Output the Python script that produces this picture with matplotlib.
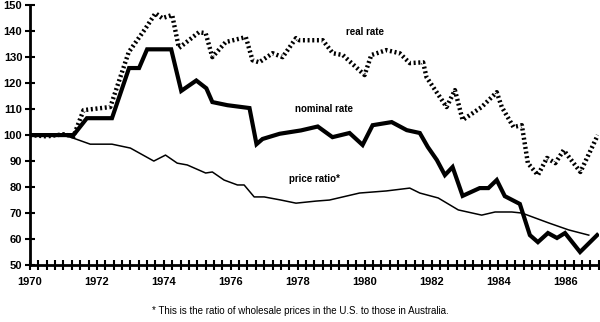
#!/usr/bin/env python3
import numpy as np
import matplotlib

# Backend non interattivo
matplotlib.use("Agg")
import matplotlib.pyplot as plt
from matplotlib.ticker import MultipleLocator

# Dati (anno, indice)
nominal_year = [1970.0, 1971.3, 1971.7, 1972.45, 1972.96, 1973.26, 1973.5, 1974.22,
                1974.52, 1974.97, 1975.27, 1975.45, 1975.9, 1976.56, 1976.77, 1976.95,
                1977.46, 1978.1, 1978.6, 1979.04, 1979.55, 1979.94, 1980.24, 1980.81,
                1981.26, 1981.65, 1981.89, 1982.16, 1982.4, 1982.63, 1982.93, 1983.44,
                1983.7, 1983.95, 1984.19, 1984.64, 1984.94, 1985.18, 1985.48, 1985.75,
                1985.99, 1986.44, 1986.95]
nominal_rate = [100, 100, 106.5, 106.5, 125.8, 125.8, 133, 133,
                117, 121, 118, 112.7, 111.5, 110.4, 96.5, 98.5,
                100.5, 101.8, 103.3, 99.2, 100.8, 96.2, 103.8, 105,
                101.9, 100.8, 95.4, 90.4, 84.6, 87.7, 76.6, 79.6,
                79.6, 82.7, 76.5, 73.5, 61.5, 58.8, 62.3, 60.4,
                62.3, 55, 61.5]

real_year = [1970.0, 1970.5, 1971.0, 1971.3, 1971.6, 1972.4, 1972.95, 1973.45,
             1973.75, 1973.95, 1974.25, 1974.45, 1974.75, 1975.05, 1975.25, 1975.45,
             1975.85, 1976.45, 1976.65, 1976.85, 1977.25, 1977.55, 1977.95, 1978.05,
             1978.75, 1979.05, 1979.35, 1980.0, 1980.2, 1980.65, 1981.05, 1981.35,
             1981.75, 1981.85, 1982.45, 1982.7, 1982.93, 1983.5, 1983.95, 1984.1,
             1984.45, 1984.7, 1984.88, 1985.18, 1985.45, 1985.7, 1985.95, 1986.45,
             1986.97]
real_rate = [100, 99.5, 100.3, 99.5, 109.6, 110.8, 131.9, 141,
             146.9, 145, 146.2, 133.5, 136.5, 139.6, 139.2, 130,
             135.8, 137.7, 128.8, 128, 131.5, 130, 137.3, 136.5,
             136.5, 131.5, 130.8, 123.1, 130.8, 132.7, 131.5, 127.7,
             128, 122.3, 110.8, 117.3, 105.8, 110.8, 116.5, 110.8,
             103.1, 103.8, 89.2, 84.6, 91.2, 89.2, 94.2, 85.8,
             100]

price_year = [1970.0, 1971.0, 1971.3, 1971.8, 1972.45, 1973.0, 1973.7, 1974.05,
              1974.4, 1974.7, 1975.25, 1975.45, 1975.8, 1976.2, 1976.4, 1976.7,
              1977.0, 1977.5, 1977.95, 1978.55, 1978.95, 1979.85, 1980.65, 1981.35,
              1981.65, 1982.2, 1982.8, 1983.5, 1983.9, 1984.4, 1984.7, 1985.5,
              1986.1, 1986.7]
price_ratio = [100, 100, 98.8, 96.5, 96.5, 95, 90, 92.3,
               89.2, 88.5, 85.4, 85.8, 82.7, 80.8, 80.8, 76.2,
               76.2, 75, 73.8, 74.6, 75, 77.7, 78.5, 79.6,
               77.7, 75.8, 71.2, 69.2, 70.4, 70.4, 70, 66.2,
               63.5, 61.5]

year_labels = [1970, 1972, 1974, 1976, 1978, 1980, 1982, 1984, 1986]


def main():
    plt.rcParams["font.family"] = ["Liberation Sans", "DejaVu Sans"]

    fig = plt.figure(figsize=(6.0, 3.22), dpi=100)
    ax = fig.add_axes([0.05, 0.177, 0.948, 0.807])

    # Serie
    ax.plot(real_year, real_rate, color="black", linewidth=3.2,
            linestyle=(0, (0.45, 0.6)), solid_capstyle="butt")
    ax.plot(nominal_year, nominal_rate, color="black", linewidth=3.0,
            solid_joinstyle="miter")
    ax.plot(price_year, price_ratio, color="black", linewidth=1.1)

    # Etichette delle serie
    ax.text(1980.0, 139.5, "real rate", fontsize=7, fontweight="bold",
            ha="center", va="center")
    ax.text(1978.8, 110.0, "nominal rate", fontsize=7, fontweight="bold",
            ha="center", va="center")
    ax.text(1978.5, 83.2, "price ratio*", fontsize=7, fontweight="bold",
            ha="center", va="center")

    # Assi
    ax.set_xlim(1970, 1987)
    ax.set_ylim(50, 150)
    ax.spines["top"].set_visible(False)
    ax.spines["right"].set_visible(False)
    ax.spines["left"].set_linewidth(2.0)
    ax.spines["bottom"].set_linewidth(2.0)

    ax.set_yticks(np.arange(50, 151, 10))
    ax.set_xticks(year_labels)
    ax.set_xticklabels([str(y) for y in year_labels])
    ax.xaxis.set_minor_locator(MultipleLocator(0.25))
    ax.tick_params(axis="both", which="both", direction="inout", width=1.5,
                   labelsize=8)
    ax.tick_params(axis="x", which="both", length=7, pad=5)
    ax.tick_params(axis="y", which="major", length=7, pad=2)
    for lbl in ax.get_xticklabels() + ax.get_yticklabels():
        lbl.set_fontweight("bold")

    # Nota a pie' di figura
    fig.text(0.5, 0.035, "* This is the ratio of wholesale prices in the U.S. to those in Australia.",
             fontsize=7, ha="center", va="center")

    fig.savefig("out.png", dpi=100)
    plt.close(fig)
    return 0


if __name__ == "__main__":
    raise SystemExit(main())
